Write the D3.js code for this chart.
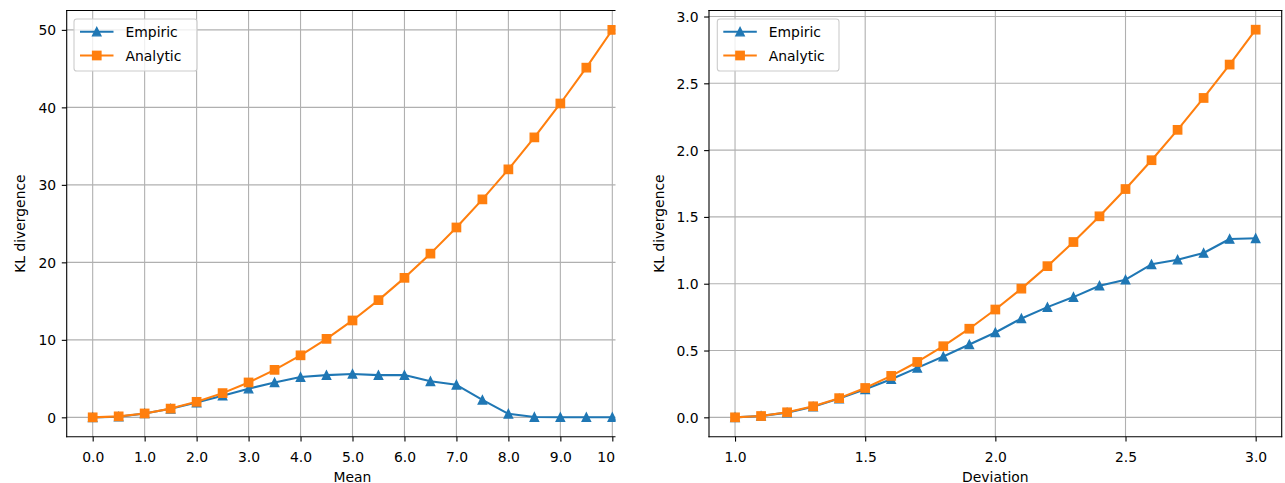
<!DOCTYPE html>
<html>
<head>
<meta charset="utf-8">
<script src="https://cdn.jsdelivr.net/npm/d3@7/dist/d3.min.js"></script>
<style>
  html, body { margin: 0; padding: 0; background: #fff; }
  svg { display: block; }
  text { font-family: "DejaVu Sans", sans-serif; fill: #000; }
</style>
</head>
<body>
<svg id="chart" width="1285" height="483"></svg>
<script>
// ---------- data ----------
const meanX = [0, 0.5, 1, 1.5, 2, 2.5, 3, 3.5, 4, 4.5, 5, 5.5, 6, 6.5, 7, 7.5, 8, 8.5, 9, 9.5, 10];
const meanEmpiric = [0, 0.08, 0.5, 1.1, 1.9, 2.8, 3.7, 4.5, 5.2, 5.45, 5.6, 5.45, 5.45, 4.65, 4.2, 2.25, 0.45, 0.04, 0.02, 0.01, 0.01];
const meanAnalytic = [0, 0.125, 0.5, 1.125, 2, 3.125, 4.5, 6.125, 8, 10.125, 12.5, 15.125, 18, 21.125, 24.5, 28.125, 32, 36.125, 40.5, 45.125, 50];

const devX = [1.0, 1.1, 1.2, 1.3, 1.4, 1.5, 1.6, 1.7, 1.8, 1.9, 2.0, 2.1, 2.2, 2.3, 2.4, 2.5, 2.6, 2.7, 2.8, 2.9, 3.0];
const devEmpiric = [0, 0.01, 0.035, 0.08, 0.14, 0.21, 0.285, 0.37, 0.455, 0.545, 0.635, 0.74, 0.825, 0.9, 0.985, 1.03, 1.145, 1.18, 1.23, 1.335, 1.34];
const devAnalytic = [0, 0.0097, 0.0377, 0.0826, 0.1435, 0.2195, 0.31, 0.4144, 0.5322, 0.6631, 0.8069, 0.9631, 1.1315, 1.3121, 1.5045, 1.7087, 1.9245, 2.1517, 2.3904, 2.6403, 2.9014];

const meanTicks = [0, 1, 2, 3, 4, 5, 6, 7, 8, 9, 10];
const meanYTicks = [0, 10, 20, 30, 40, 50];
const devTicks = [1.0, 1.5, 2.0, 2.5, 3.0];
const devYTicks = [0, 0.5, 1.0, 1.5, 2.0, 2.5, 3.0];
const seriesNames = ["Empiric", "Analytic"];

// ---------- style ----------
const BLUE = "#1f77b4", ORANGE = "#ff7f0e";
const FS = 13.9;
const LW = 2.08, MS = 8.33, MEW = 1.39;
const svg = d3.select("#chart");

svg.append("defs").append("clipPath").attr("id", "leftclip")
  .append("rect").attr("x", 0).attr("y", 0).attr("width", 615.5).attr("height", 483);

function panel(opts) {
  const g = svg.append("g");
  if (opts.clip) g.attr("clip-path", "url(#leftclip)");
  const x = d3.scaleLinear().domain(opts.xdom).range([opts.left, opts.right]);
  const y = d3.scaleLinear().domain(opts.ydom).range([opts.bottom, opts.top]);

  // grid
  const grid = g.append("g");
  grid.selectAll("line.gx").data(opts.xticks).enter().append("line")
    .attr("x1", d => x(d)).attr("x2", d => x(d))
    .attr("y1", opts.top).attr("y2", opts.bottom)
    .attr("stroke", "#b0b0b0").attr("stroke-width", 1.1);
  grid.selectAll("line.gy").data(opts.yticks).enter().append("line")
    .attr("y1", d => y(d)).attr("y2", d => y(d))
    .attr("x1", opts.left).attr("x2", opts.right)
    .attr("stroke", "#b0b0b0").attr("stroke-width", 1.1);

  // axes via d3
  const xAxis = d3.axisBottom(x).tickValues(opts.xticks).tickFormat(d3.format(opts.xfmt))
    .tickSize(4.9).tickPadding(4.5);
  const yAxis = d3.axisLeft(y).tickValues(opts.yticks).tickFormat(d3.format(opts.yfmt))
    .tickSize(4.9).tickPadding(4.5);
  const gx = g.append("g").attr("transform", `translate(0,${opts.bottom})`).call(xAxis);
  const gy = g.append("g").attr("transform", `translate(${opts.left},0)`).call(yAxis);
  [gx, gy].forEach(a => {
    a.select(".domain").remove();
    a.selectAll(".tick line").attr("stroke", "#000").attr("stroke-width", 1.1);
    a.selectAll(".tick text").attr("font-size", FS).attr("font-family", "DejaVu Sans").attr("fill", "#000");
  });
  gx.selectAll(".tick text").attr("dy", null).attr("y", 25).attr("dominant-baseline", "auto");
  gy.selectAll(".tick text").attr("dy", null).attr("dominant-baseline", "central").attr("x", -10.5);

  // series
  const series = [
    { vals: opts.emp, color: BLUE, marker: "tri" },
    { vals: opts.ana, color: ORANGE, marker: "sq" }
  ];
  const line = d3.line().x(d => x(d[0])).y(d => y(d[1]));
  series.forEach(s => {
    const pts = opts.xs.map((v, i) => [v, s.vals[i]]);
    g.append("path").datum(pts).attr("d", line).attr("fill", "none")
      .attr("stroke", s.color).attr("stroke-width", LW).attr("stroke-linejoin", "round").attr("stroke-linecap", "square");
    drawMarkers(g, pts.map(p => [x(p[0]), y(p[1])]), s);
  });

  // spines
  const sp = g.append("g").attr("stroke", "#000").attr("stroke-width", 1.1).attr("stroke-linecap", "square");
  sp.append("line").attr("x1", opts.left).attr("x2", opts.right).attr("y1", opts.top).attr("y2", opts.top);
  sp.append("line").attr("x1", opts.left).attr("x2", opts.right).attr("y1", opts.bottom).attr("y2", opts.bottom);
  sp.append("line").attr("x1", opts.left).attr("x2", opts.left).attr("y1", opts.top).attr("y2", opts.bottom);
  sp.append("line").attr("x1", opts.right).attr("x2", opts.right).attr("y1", opts.top).attr("y2", opts.bottom);

  // labels
  g.append("text").attr("x", (opts.left + opts.right) / 2).attr("y", 481.5)
    .attr("text-anchor", "middle").attr("font-size", FS).text(opts.xlabel);
  g.append("text").attr("transform", `translate(${opts.ylabelX},${(opts.top + opts.bottom) / 2}) rotate(-90)`)
    .attr("text-anchor", "middle").attr("font-size", FS).text("KL divergence");

  // legend
  const L = opts.legend;
  const lg = g.append("g");
  lg.append("rect").attr("x", L.x).attr("y", L.y).attr("width", L.w).attr("height", L.h)
    .attr("rx", 2.8).attr("ry", 2.8)
    .attr("fill", "#fff").attr("fill-opacity", 0.8).attr("stroke", "#cccccc").attr("stroke-width", 1.1);
  series.forEach((s, i) => {
    const ry = L.y + 12.7 + i * 23.8;
    const hx0 = L.x + 6, hx1 = L.x + 39.5;
    lg.append("line").attr("x1", hx0).attr("x2", hx1).attr("y1", ry).attr("y2", ry)
      .attr("stroke", s.color).attr("stroke-width", LW);
    drawMarkers(lg, [[(hx0 + hx1) / 2, ry]], s);
    lg.append("text").attr("x", L.x + 51.5).attr("y", ry + 5).attr("font-size", FS).text(seriesNames[i]);
  });
}

function drawMarkers(g, pts, s) {
  const h = MS / 2;
  if (s.marker === "tri") {
    g.selectAll(null).data(pts).enter().append("path")
      .attr("d", d => `M${d[0]},${d[1] - h}L${d[0] - h},${d[1] + h}L${d[0] + h},${d[1] + h}Z`)
      .attr("fill", s.color).attr("stroke", s.color).attr("stroke-width", MEW).attr("stroke-linejoin", "miter");
  } else {
    g.selectAll(null).data(pts).enter().append("rect")
      .attr("x", d => d[0] - h).attr("y", d => d[1] - h).attr("width", MS).attr("height", MS)
      .attr("fill", s.color).attr("stroke", s.color).attr("stroke-width", MEW);
  }
}

panel({
  clip: true,
  left: 66.7, right: 638.3, top: 10.5, bottom: 436.7,
  xdom: [-0.5, 10.5], ydom: [-2.5, 52.5],
  xticks: meanTicks, yticks: meanYTicks, xfmt: ".1f", yfmt: "d",
  xs: meanX, emp: meanEmpiric, ana: meanAnalytic,
  xlabel: "Mean", ylabelX: 25,
  legend: { x: 74, y: 19, w: 123, h: 52 }
});

panel({
  clip: false,
  left: 709, right: 1281.7, top: 10.5, bottom: 436.7,
  xdom: [0.9, 3.1], ydom: [-0.145, 3.045],
  xticks: devTicks, yticks: devYTicks, xfmt: ".1f", yfmt: ".1f",
  xs: devX, emp: devEmpiric, ana: devAnalytic,
  xlabel: "Deviation", ylabelX: 663.5,
  legend: { x: 717.3, y: 19, w: 121.7, h: 52 }
});
</script>
</body>
</html>
